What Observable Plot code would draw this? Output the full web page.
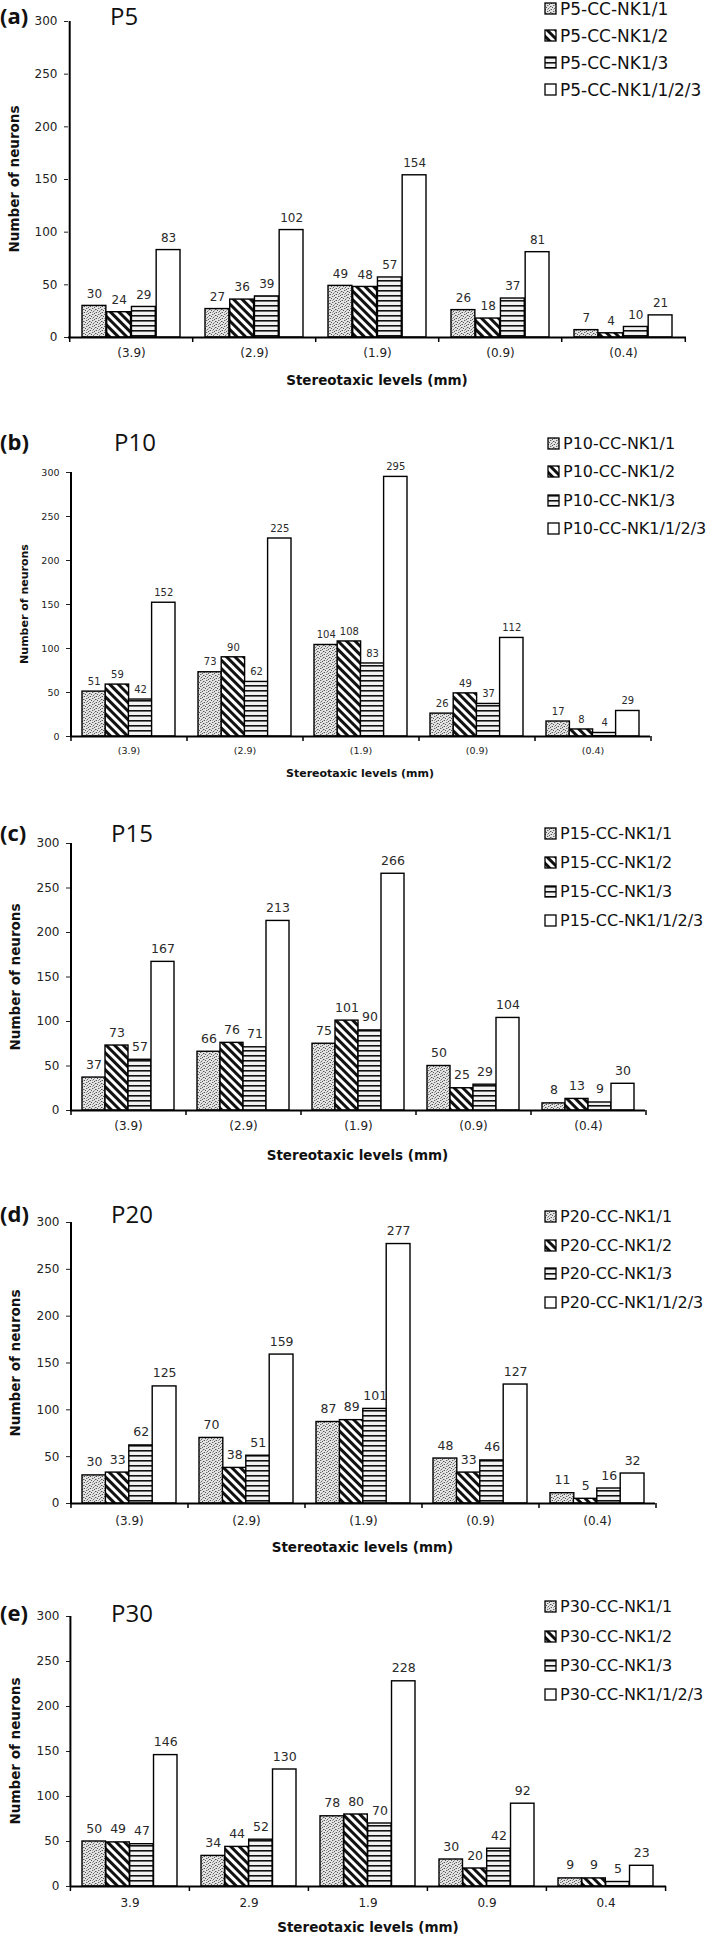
<!DOCTYPE html>
<html>
<head>
<meta charset="utf-8">
<script src="https://cdn.jsdelivr.net/npm/d3@7"></script>
<script src="https://cdn.jsdelivr.net/npm/@observablehq/plot@0.6"></script>
<style>
  body { margin: 0; background: #fff; }
  #root { position: relative; width: 709px; height: 1936px; overflow: hidden; background: #fff; }
  .abs { position: absolute; white-space: nowrap; color: #111; }
  .tag { font-family: "Open Sans", sans-serif; font-weight: bold; font-size: 22px; transform: translateY(-50%); }
  .ptitle { font-family: "Open Sans", sans-serif; font-size: 24px; transform: translateY(-50%); }
  .xtitle { font-family: "DejaVu Sans", sans-serif; font-weight: bold; transform: translate(-50%, -50%); }
  .ytitle { font-family: "DejaVu Sans", sans-serif; font-weight: bold; transform: translate(-50%, -50%) rotate(-90deg); }
  .legwrap { position: absolute; width: 175px; }
  .lg-swatches { margin: 0 !important; min-height: 0 !important; width: 175px; }
  .lg-swatch { display: flex !important; align-items: center !important; padding: 0 !important; margin: 0 !important; }
  .lg-swatch > svg { margin-right: 4px !important; overflow: visible !important; }
  .lg-swatch > svg rect { stroke: #000; stroke-width: 1.3px; }
</style>
</head>
<body>
<svg width="0" height="0" style="position:absolute">
  <defs>
    <pattern id="pSpeck" width="6" height="6" patternUnits="userSpaceOnUse">
      <rect width="6" height="6" fill="#e4e4e4"/>
      <rect x="0" y="0" width="1" height="1" fill="#555"/>
      <rect x="4" y="1" width="1" height="1" fill="#555"/>
      <rect x="2" y="2" width="1" height="1" fill="#666"/>
      <rect x="5" y="3" width="1" height="1" fill="#555"/>
      <rect x="1" y="4" width="1" height="1" fill="#555"/>
      <rect x="3" y="5" width="1" height="1" fill="#666"/>
      <rect x="2" y="0" width="1" height="1" fill="#a0a0a0"/>
      <rect x="0" y="3" width="1" height="1" fill="#a0a0a0"/>
      <rect x="4" y="4" width="1" height="1" fill="#a0a0a0"/>
      <rect x="5" y="0" width="1" height="1" fill="#b0b0b0"/>
      <rect x="3" y="2" width="1" height="1" fill="#b0b0b0"/>
    </pattern>
    <pattern id="pDiag" width="6" height="6" patternUnits="userSpaceOnUse" patternTransform="rotate(-45)">
      <rect width="6" height="6" fill="#fff"/>
      <rect width="3" height="6" fill="#111"/>
    </pattern>
    <pattern id="pHoriz" width="5" height="5" patternUnits="userSpaceOnUse">
      <rect width="5" height="5" fill="#f2f2f2"/>
      <rect width="5" height="1.6" fill="#111"/>
    </pattern>
  </defs>
</svg>
<div id="root"></div>
<script>
// ---------- data ----------
const levelsParen = ["(3.9)", "(2.9)", "(1.9)", "(0.9)", "(0.4)"];
const levelsPlain = ["3.9", "2.9", "1.9", "0.9", "0.4"];
const seriesSuffix = ["CC-NK1/1", "CC-NK1/2", "CC-NK1/3", "CC-NK1/1/2/3"];
const yTicks = [0, 50, 100, 150, 200, 250, 300];

const p5_nk1_1 = [30, 27, 49, 26, 7];
const p5_nk1_2 = [24, 36, 48, 18, 4];
const p5_nk1_3 = [29, 39, 57, 37, 10];
const p5_nk1_all = [83, 102, 154, 81, 21];

const p10_nk1_1 = [51, 73, 104, 26, 17];
const p10_nk1_2 = [59, 90, 108, 49, 8];
const p10_nk1_3 = [42, 62, 83, 37, 4];
const p10_nk1_all = [152, 225, 295, 112, 29];

const p15_nk1_1 = [37, 66, 75, 50, 8];
const p15_nk1_2 = [73, 76, 101, 25, 13];
const p15_nk1_3 = [57, 71, 90, 29, 9];
const p15_nk1_all = [167, 213, 266, 104, 30];

const p20_nk1_1 = [30, 70, 87, 48, 11];
const p20_nk1_2 = [33, 38, 89, 33, 5];
const p20_nk1_3 = [62, 51, 101, 46, 16];
const p20_nk1_all = [125, 159, 277, 127, 32];

const p30_nk1_1 = [50, 34, 78, 30, 9];
const p30_nk1_2 = [49, 44, 80, 20, 9];
const p30_nk1_3 = [47, 52, 70, 42, 5];
const p30_nk1_all = [146, 130, 228, 92, 23];

const panelTags = ["(a)", "(b)", "(c)", "(d)", "(e)"];
const panelTitles = ["P5", "P10", "P15", "P20", "P30"];
const panelLevels = [levelsParen, levelsParen, levelsParen, levelsParen, levelsPlain];
const panelSeries = [
  [p5_nk1_1, p5_nk1_2, p5_nk1_3, p5_nk1_all],
  [p10_nk1_1, p10_nk1_2, p10_nk1_3, p10_nk1_all],
  [p15_nk1_1, p15_nk1_2, p15_nk1_3, p15_nk1_all],
  [p20_nk1_1, p20_nk1_2, p20_nk1_3, p20_nk1_all],
  [p30_nk1_1, p30_nk1_2, p30_nk1_3, p30_nk1_all]
];
const xTitle = "Stereotaxic levels (mm)";
const yTitle = "Number of neurons";

// ---------- layout (page pixels) ----------
const layout = [
  {top: 0,    h: 390, yTop: 21,   yBase: 337,  left: 68, right: 686, tagY: 15,   titleX: 110, legX: 545, legY: 8.6,  legStep: 27,   legFont: 17, xLabelY: 352,  xTitleY: 380,  yTitleX: 14, valFont: 12,   valDy: 12, tickFont: 12,  axFont: 13.5},
  {top: 390,  h: 390, yTop: 472,  yBase: 736,  left: 70, right: 650, tagY: 441,  titleX: 114, legX: 548, legY: 443,  legStep: 28.5, legFont: 16, xLabelY: 750,  xTitleY: 773,  yTitleX: 24, valFont: 10,   valDy: 10, tickFont: 9.5, axFont: 11},
  {top: 780,  h: 390, yTop: 843,  yBase: 1110, left: 70, right: 645, tagY: 832,  titleX: 111, legX: 545, legY: 833,  legStep: 29,   legFont: 16, xLabelY: 1125, xTitleY: 1155, yTitleX: 15, valFont: 12.5, valDy: 13, tickFont: 12,  axFont: 13.5},
  {top: 1170, h: 380, yTop: 1222, yBase: 1503, left: 70, right: 655, tagY: 1213, titleX: 111, legX: 545, legY: 1217, legStep: 28.4, legFont: 16, xLabelY: 1520, xTitleY: 1547, yTitleX: 15, valFont: 12.5, valDy: 13, tickFont: 12,  axFont: 13.5},
  {top: 1550, h: 386, yTop: 1616, yBase: 1886, left: 70, right: 666, tagY: 1612, titleX: 111, legX: 545, legY: 1607, legStep: 29.3, legFont: 16, xLabelY: 1902, xTitleY: 1927, yTitleX: 15, valFont: 12.5, valDy: 13, tickFont: 12,  axFont: 13.5}
];

const fills = ["url(#pSpeck)", "url(#pDiag)", "url(#pHoriz)", "#ffffff"];
const root = document.getElementById("root");
const W = 709;

function addDiv(cls, text, x, y, extra = {}) {
  const d = document.createElement("div");
  d.className = "abs " + cls;
  d.textContent = text;
  d.style.left = x + "px";
  d.style.top = y + "px";
  Object.assign(d.style, extra);
  root.appendChild(d);
  return d;
}

layout.forEach((cfg, p) => {
  const levels = panelLevels[p];
  const series = panelSeries[p];
  const n = levels.length, k = series.length;
  const pInner = 0.2, pOuter = pInner / 2;
  const plotW = cfg.right - cfg.left;
  const step = plotW / (n - pInner + 2 * pOuter);
  const sub = step * (1 - pInner) / k;
  const yMax = yTicks[yTicks.length - 1];

  const rows = series.flatMap((vals, si) => vals.map((v, ci) => ({level: levels[ci], si, value: v})));
  const marks = [];
  series.forEach((vals, si) => {
    marks.push(Plot.barY(rows.filter(d => d.si === si), {
      x: "level", y: "value", fill: fills[si], stroke: "#000", strokeWidth: 1.4,
      insetLeft: si * sub, insetRight: (k - 1 - si) * sub
    }));
  });
  series.forEach((vals, si) => {
    marks.push(Plot.text(rows.filter(d => d.si === si), {
      x: "level", y: "value", text: d => String(d.value),
      dx: (si - (k - 1) / 2) * sub, dy: -cfg.valDy,
      fontSize: cfg.valFont, fill: "#2a2a2a"
    }));
  });
  marks.push(Plot.ruleY([0], {stroke: "#000", strokeWidth: 2}));
  marks.push(Plot.ruleX([levels[0]], {x: d => d, dx: -step / 2, y1: 0, y2: yMax, stroke: "#000", strokeWidth: 2}));
  marks.push(Plot.ruleX(levels, {x: d => d, dx: -step / 2, y1: 0, y2: 0, insetBottom: -5, stroke: "#000", strokeWidth: 1.5}));
  marks.push(Plot.ruleX([levels[n - 1]], {x: d => d, dx: step / 2, y1: 0, y2: 0, insetBottom: -5, stroke: "#000", strokeWidth: 1.5}));

  const labelOffset = (cfg.xLabelY - cfg.yBase) - 0.345 * cfg.tickFont;
  const chart = Plot.plot({
    width: W,
    height: cfg.h,
    marginLeft: cfg.left,
    marginRight: W - cfg.right,
    marginTop: cfg.yTop - cfg.top,
    marginBottom: cfg.top + cfg.h - cfg.yBase,
    x: {type: "band", domain: levels, paddingInner: pInner, paddingOuter: pOuter, align: 0.5, tickSize: 0, tickPadding: labelOffset, label: null},
    y: {domain: [yTicks[0], yMax], ticks: yTicks, tickSize: 4, tickPadding: 7, label: null},
    style: {fontFamily: "DejaVu Sans, sans-serif", fontSize: cfg.tickFont + "px", color: "#222", background: "transparent", overflow: "visible"},
    marks
  });
  const holder = document.createElement("div");
  holder.style.position = "absolute";
  holder.style.left = "0px";
  holder.style.top = cfg.top + "px";
  holder.appendChild(chart);
  root.appendChild(holder);

  // titles
  addDiv("tag", panelTags[p], 0, cfg.tagY);
  addDiv("ptitle", panelTitles[p], cfg.titleX, cfg.tagY);
  addDiv("xtitle", xTitle, (cfg.left + cfg.right) / 2, cfg.xTitleY, {fontSize: cfg.axFont + "px"});
  addDiv("ytitle", yTitle, cfg.yTitleX, (cfg.yTop + cfg.yBase) / 2, {fontSize: cfg.axFont + "px"});

  // legend
  const names = seriesSuffix.map(s => `${panelTitles[p]}-${s}`);
  const leg = Plot.legend({
    color: {type: "ordinal", domain: names, range: fills},
    columns: 1,
    swatchSize: 11,
    className: "lg",
    style: {fontFamily: "DejaVu Sans, sans-serif", fontSize: cfg.legFont + "px", color: "#111"}
  });
  const lw = document.createElement("div");
  lw.className = "legwrap";
  lw.style.left = cfg.legX + "px";
  lw.style.top = (cfg.legY - cfg.legStep / 2) + "px";
  lw.appendChild(leg);
  root.appendChild(lw);
  lw.querySelectorAll(".lg-swatch").forEach(el => { el.style.height = cfg.legStep + "px"; });
});
</script>
</body>
</html>
